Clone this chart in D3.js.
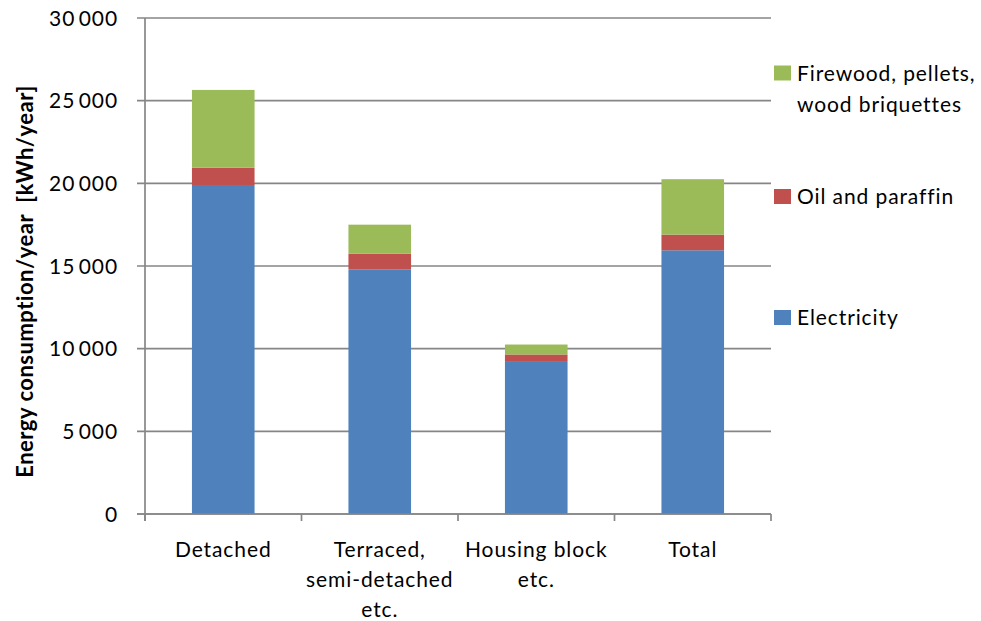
<!DOCTYPE html>
<html>
<head>
<meta charset="utf-8">
<script src="https://cdn.jsdelivr.net/npm/d3@7/dist/d3.min.js"></script>
<style>
  html, body { margin: 0; padding: 0; background: #fff; }
  svg { display: block; }
  text { font-family: Lato, "Open Sans", sans-serif; fill: #000; }
</style>
</head>
<body>
<svg id="chart" width="981" height="621"></svg>
<script>
// ---- data ----
const categories = ["Detached", "Terraced, semi-detached etc.", "Housing block etc.", "Total"];
const categoryLines = [["Detached"], ["Terraced,", "semi-detached", "etc."], ["Housing block", "etc."], ["Total"]];
const seriesNames = ["Electricity", "Oil and paraffin", "Firewood, pellets, wood briquettes"];
const electricity = [19900, 14800, 9200, 15950];
const oilParaffin = [1050, 950, 450, 950];
const firewood = [4700, 1750, 600, 3350];
const yTicks = [0, 5000, 10000, 15000, 20000, 25000, 30000];
const yTitle = "Energy consumption/year  [kWh/year]";
const legendLines = [["Firewood, pellets,", "wood briquettes"], ["Oil and paraffin"], ["Electricity"]];
const colors = ["#4F81BD", "#C0504D", "#9BBB59"];

(function () {
// ---- layout ----
const svg = d3.select("#chart");
const pLeft = 145, pRight = 771, pTop = 18, pBottom = 514;
const fontSize = 21, spacing = 0.9;
const gridColor = "#868686";

const x = d3.scaleBand().domain(categories).range([pLeft, pRight]).paddingInner(0.6).paddingOuter(0.3);
const y = d3.scaleLinear().domain([0, 30000]).range([pBottom, pTop]);

const rows = categories.map((c, i) => ({ cat: c, e: electricity[i], o: oilParaffin[i], f: firewood[i] }));
const stack = d3.stack().keys(["e", "o", "f"])(rows);

// gridlines
svg.append("g").selectAll("line").data(yTicks).join("line")
  .attr("x1", pLeft - 8).attr("x2", pRight)
  .attr("y1", d => y(d)).attr("y2", d => y(d))
  .attr("stroke", gridColor).attr("stroke-width", 1.7);

// y axis line
svg.append("line").attr("x1", pLeft).attr("x2", pLeft).attr("y1", pTop).attr("y2", pBottom + 7)
  .attr("stroke", gridColor).attr("stroke-width", 1.7);

// x tick marks at band boundaries
const step = x.step();
const xb = d3.range(categories.length + 1).map(i => pLeft + i * step);
svg.append("g").selectAll("line").data(xb).join("line")
  .attr("x1", d => d).attr("x2", d => d).attr("y1", pBottom).attr("y2", pBottom + 7)
  .attr("stroke", gridColor).attr("stroke-width", 1.7);

// bars
svg.append("g").selectAll("g").data(stack).join("g")
  .attr("fill", (d, i) => colors[i])
  .selectAll("rect").data(d => d).join("rect")
  .attr("x", d => x(d.data.cat))
  .attr("width", x.bandwidth())
  .attr("y", d => y(d[1]))
  .attr("height", d => y(d[0]) - y(d[1]));

// baseline on top of bars
svg.append("line").attr("x1", pLeft - 8).attr("x2", pRight).attr("y1", y(0)).attr("y2", y(0))
  .attr("stroke", gridColor).attr("stroke-width", 1.7);

// y tick labels
const fmt = v => d3.format(",")(v).replace(/,/g, "\u2009");
svg.append("g").selectAll("text").data(yTicks).join("text")
  .attr("x", 118).attr("y", d => y(d)).attr("dy", "0.36em")
  .attr("text-anchor", "end")
  .style("font-size", fontSize + "px").style("letter-spacing", spacing + "px")
  .text(d => fmt(d));

// category labels
svg.append("g").selectAll("text").data(categories).join("text")
  .attr("text-anchor", "middle")
  .attr("transform", d => `translate(${x(d) + x.bandwidth() / 2},556.5)`)
  .style("font-size", fontSize + "px").style("letter-spacing", spacing + "px")
  .each(function (d, i) {
    d3.select(this).selectAll("tspan").data(categoryLines[i]).join("tspan")
      .attr("x", 0).attr("y", (l, j) => j * 30).text(l => l);
  });

// y title
svg.append("text")
  .attr("transform", `translate(33,281.5) rotate(-90)`)
  .attr("text-anchor", "middle")
  .style("white-space", "pre")
  .style("font-size", "22px").style("font-weight", "bold").style("letter-spacing", "0.5px")
  .text(yTitle);

// legend
const legendY = [80.5, 204, 325];
const legendColor = [colors[2], colors[1], colors[0]];
const lg = svg.append("g");
legendLines.forEach((lines, i) => {
  lg.append("rect").attr("x", 774).attr("y", legendY[i] - 15).attr("width", 17).attr("height", 15)
    .attr("fill", legendColor[i]);
  const t = lg.append("text").attr("transform", `translate(797,${legendY[i]})`)
    .style("font-size", fontSize + "px").style("letter-spacing", spacing + "px");
  t.selectAll("tspan").data(lines).join("tspan").attr("x", 0).attr("y", (l, j) => j * 31).text(l => l);
});
})();
</script>
</body>
</html>
